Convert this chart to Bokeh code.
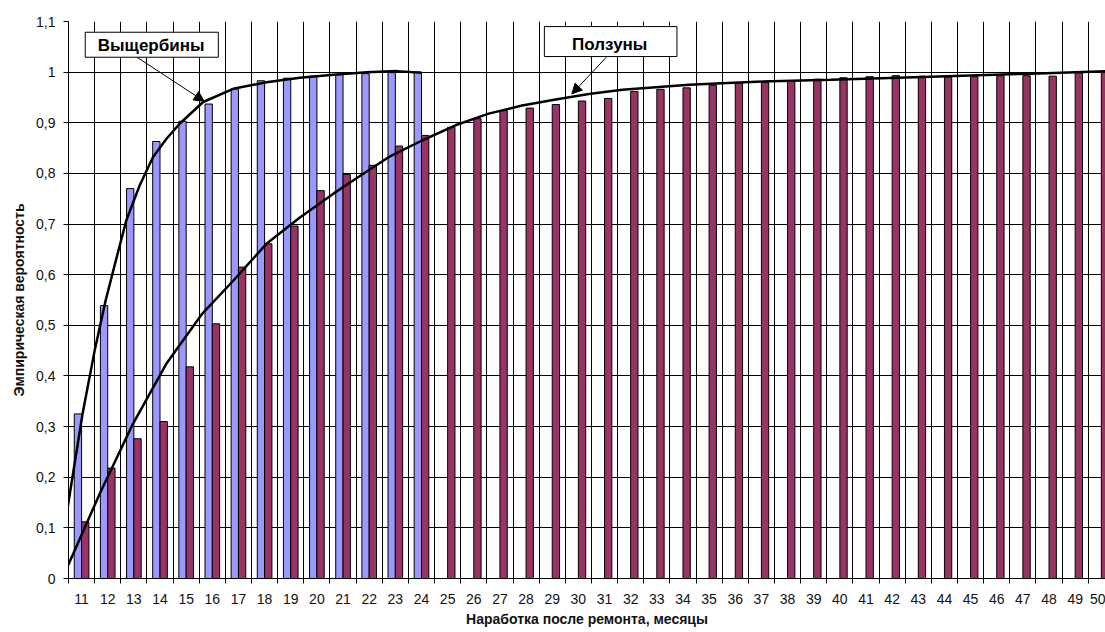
from bokeh.plotting import figure
from bokeh.models import Range1d, FixedTicker, CustomJSTickFormatter, Arrow, NormalHead
from bokeh.core.properties import value
from bokeh.embed import file_html
from bokeh.resources import INLINE

# ---- data -----------------------------------------------------------
months = [11, 12, 13, 14, 15, 16, 17, 18, 19, 20, 21, 22, 23, 24, 25, 26, 27, 28, 29, 30,
          31, 32, 33, 34, 35, 36, 37, 38, 39, 40, 41, 42, 43, 44, 45, 46, 47, 48, 49, 50]

vy_months = [11, 12, 13, 14, 15, 16, 17, 18, 19, 20, 21, 22, 23, 24]
vy_prob = [0.325, 0.539, 0.770, 0.863, 0.903, 0.937, 0.967, 0.983, 0.988, 0.992,
           0.995, 0.997, 0.999, 1.000]

pol_prob = [0.112, 0.218, 0.276, 0.310, 0.418, 0.503, 0.615, 0.661, 0.696, 0.766,
            0.798, 0.816, 0.854, 0.875, 0.891, 0.908, 0.924, 0.929, 0.936, 0.943,
            0.948, 0.962, 0.966, 0.969, 0.974, 0.978, 0.980, 0.982, 0.986, 0.989,
            0.991, 0.993, 0.992, 0.990, 0.991, 0.993, 0.993, 0.992, 0.999, 1.000]

# fitted curves
vy_curve_x = [10.47, 11.04, 11.50, 11.92, 12.26, 12.71, 13.22, 13.73, 14.24, 14.75,
              15.65, 16.80, 18.07, 19.35, 20.63, 21.90, 23.05, 24.00]
vy_curve_y = [0.141, 0.326, 0.450, 0.549, 0.618, 0.707, 0.776, 0.832, 0.868, 0.898,
              0.941, 0.967, 0.980, 0.989, 0.995, 1.000, 1.002, 0.999]

pol_curve_x = [10.47, 11.69, 12.96, 14.24, 15.60, 16.80, 18.07, 19.35, 20.63, 21.47,
               22.74, 24.02, 25.30, 26.57, 27.85, 29.13, 30.40, 31.68, 32.96, 34.24,
               35.50, 36.80, 39.66, 43.49, 47.32, 50.19]
pol_curve_y = [0.024, 0.167, 0.305, 0.424, 0.522, 0.588, 0.661, 0.713, 0.760, 0.789,
               0.832, 0.865, 0.895, 0.918, 0.934, 0.946, 0.957, 0.965, 0.970, 0.975,
               0.978, 0.981, 0.985, 0.991, 0.997, 1.002]

ytick_vals = [0, 0.1, 0.2, 0.3, 0.4, 0.5, 0.6, 0.7, 0.8, 0.9, 1.0, 1.1]

series_names = ["Выщербины", "Ползуны"]
x_title = "Наработка после ремонта, месяцы"
y_title = "Эмпирическая вероятность"

BLUE = "#9999FF"
PURPLE = "#993366"
FONT = "Liberation Sans"

# ---- figure ---------------------------------------------------------
p = figure(width=1105, height=632, output_backend="svg", toolbar_location=None,
           x_range=Range1d(10.5, 50.16), y_range=Range1d(0, 1.1),
           min_border_left=68, min_border_right=0, min_border_top=21, min_border_bottom=54)
p.outline_line_color = None
p.background_fill_color = "white"
p.border_fill_color = "white"

bar_w = 0.28
p.vbar(x=[m - bar_w / 2 for m in vy_months], top=vy_prob, width=bar_w,
       fill_color=BLUE, line_color="black", line_width=1)
p.vbar(x=[m + bar_w / 2 for m in months], top=pol_prob, width=bar_w,
       fill_color=PURPLE, line_color="black", line_width=1)

p.line(vy_curve_x, vy_curve_y, line_color="black", line_width=2.5)
p.line(pol_curve_x, pol_curve_y, line_color="black", line_width=2.5)

# x axis
xt = FixedTicker(ticks=months, minor_ticks=[m - 0.5 for m in months] + [months[-1] + 0.5])
p.xaxis.ticker = xt
p.xgrid.ticker = xt
p.xaxis.major_tick_in = 0
p.xaxis.major_tick_out = 0
p.xaxis.minor_tick_in = 0
p.xaxis.minor_tick_out = 5
p.xaxis.minor_tick_line_color = "black"
p.xaxis.axis_line_color = "black"
p.xaxis.major_label_text_font = FONT
p.xaxis.major_label_text_font_size = "14px"
p.xaxis.major_label_text_color = "#111111"
p.xaxis.major_label_standoff = 10
p.xaxis.axis_label = x_title
p.xaxis.axis_label_text_font = FONT
p.xaxis.axis_label_text_font_style = "bold"
p.xaxis.axis_label_text_font_size = "14px"
p.xaxis.axis_label_text_color = "#111111"
p.xaxis.axis_label_standoff = 4
p.xgrid.grid_line_color = None
p.xgrid.minor_grid_line_color = "black"
p.xgrid.minor_grid_line_width = 1

# y axis
yt = FixedTicker(ticks=ytick_vals)
p.yaxis.ticker = yt
p.ygrid.ticker = yt
p.yaxis.formatter = CustomJSTickFormatter(code="""
var s = tick.toFixed(1).replace('.', ',');
if (s.endsWith(',0')) { s = s.slice(0, -2); }
return s;
""")
p.yaxis.major_tick_in = 0
p.yaxis.major_tick_out = 5
p.yaxis.minor_tick_out = 0
p.yaxis.minor_tick_in = 0
p.yaxis.axis_line_color = "black"
p.yaxis.major_label_text_font = FONT
p.yaxis.major_label_text_font_size = "14px"
p.yaxis.major_label_text_color = "#111111"
p.yaxis.major_label_standoff = 8
p.yaxis.axis_label = y_title
p.yaxis.axis_label_text_font = FONT
p.yaxis.axis_label_text_font_style = "bold"
p.yaxis.axis_label_text_font_size = "14px"
p.yaxis.axis_label_text_color = "#111111"
p.yaxis.axis_label_standoff = 6
p.ygrid.grid_line_color = "black"
p.ygrid.grid_line_width = 1

# ---- annotations ----------------------------------------------------
p.quad(left=[11.14, 28.70], right=[16.23, 33.77], bottom=[1.0294, 1.0308], top=[1.0788, 1.090],
       fill_color="white", line_color="black", line_width=1)
p.text(x=[13.66, 31.20], y=[1.0525, 1.0545], text=series_names,
       text_font=value(FONT), text_font_style="bold", text_font_size="17px",
       text_align="center", text_baseline="alphabetic", text_color="black")

p.add_layout(Arrow(end=NormalHead(size=10, fill_color="black", line_color="black"),
                   x_start=13.12, y_start=1.0294, x_end=15.69, y_end=0.9425,
                   line_color="black", line_width=1))
p.add_layout(Arrow(end=NormalHead(size=10, fill_color="black", line_color="black"),
                   x_start=31.07, y_start=1.0294, x_end=29.75, y_end=0.957,
                   line_color="black", line_width=1))

open("out.html", "w").write(file_html(p, INLINE))
